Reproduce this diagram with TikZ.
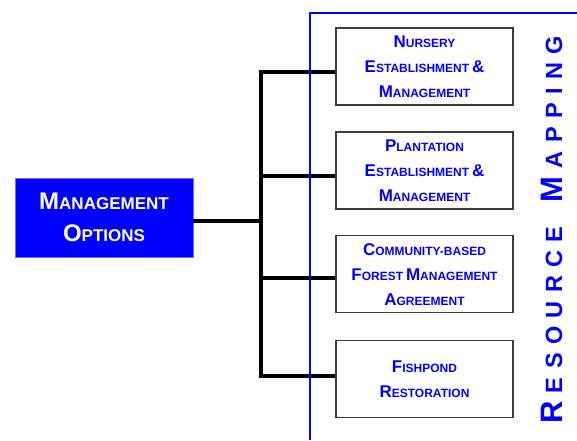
\documentclass[tikz,border=0pt]{standalone}
\usepackage{fontspec}
\setmainfont{Liberation Sans}
\definecolor{pblue}{RGB}{0,0,255}
\definecolor{boxgray}{RGB}{60,60,60}
\definecolor{lightblue}{RGB}{110,110,255}
\newcommand\bsc[2]{{\fontsize{17}{17}\selectfont #1}{\fontsize{12}{12}\selectfont #2}}
\newcommand\msc[2]{{\fontsize{24}{24}\selectfont #1}{\fontsize{17}{17}\selectfont #2}}
\newcommand\vbig[1]{{\fontsize{31}{31}\selectfont #1}}
\newcommand\vsm[1]{{\fontsize{23.5}{23.5}\selectfont #1}}
\newcommand\ls{\kern8.4pt}
\begin{document}
\begin{tikzpicture}[x=1pt,y=-1pt,
  optbox/.style={draw=boxgray, line width=1.2pt, fill=white, minimum width=177pt,
    minimum height=77pt, inner sep=0pt, align=center, text=pblue,
    font=\bfseries\fontsize{17}{25}\selectfont},
  mainbox/.style={draw=lightblue, line width=0.8pt, fill=pblue, minimum width=178pt,
    minimum height=79pt, inner sep=0pt, align=center, text=white,
    font=\bfseries\fontsize{24}{32}\selectfont},
  bus/.style={line width=4.6pt, black, line join=miter},
  frame/.style={pblue, line width=2pt},
  vtext/.style={rotate=90, anchor=base west, inner sep=0pt, text=pblue, font=\bfseries}
]
\useasboundingbox (0,0) rectangle (577,440);

\node[mainbox] (mgmt) at (104,217.5) {\msc{M}{ANAGEMENT}\\\msc{O}{PTIONS}};

\node[optbox] (nursery) at (424.5,66.5) {\bsc{N}{URSERY}\\\bsc{E}{STABLISHMENT}\,\bsc{\&}{}\\\bsc{M}{ANAGEMENT}};
\node[optbox] (plant) at (424.5,170.5) {\bsc{P}{LANTATION}\\\bsc{E}{STABLISHMENT}\,\bsc{\&}{}\\\bsc{M}{ANAGEMENT}};
\node[optbox] (comm) at (424.5,274.2) {\bsc{C}{OMMUNITY-BASED}\\\bsc{F}{OREST}\,\bsc{M}{ANAGEMENT}\\\bsc{A}{GREEMENT}};
\node[optbox] (fish) at (424.5,379.3) {\bsc{F}{ISHPOND}\\\bsc{R}{ESTORATION}};

\coordinate (j0) at (261,220.7);
\coordinate (j1) at (261,72);
\coordinate (j2) at (261,176);
\coordinate (j3) at (261,278);
\coordinate (j4) at (261,376);

\draw[bus] (j1 -| nursery.west) -- (j1) -- (j4) -- (j4 -| fish.west);
\draw[bus] (j2) -- (j2 -| plant.west);
\draw[bus] (j3) -- (j3 -| comm.west);
\draw[bus, line width=4pt] (mgmt.east |- j0) -- (j0);

\draw[frame] (310,440) -- (310,13) -- (577,13);

\node[vtext] (rm) at (562,424) {\vbig{R}\ls\vsm{E}\ls\vsm{S}\ls\vsm{O}\ls\vsm{U}\ls\vsm{R}\ls\vsm{C}\ls\vsm{E}\kern24pt\vbig{M}\ls\vsm{A}\ls\vsm{P}\ls\vsm{P}\ls\vsm{I}\ls\vsm{N}\ls\vsm{G}};
\end{tikzpicture}
\end{document}
